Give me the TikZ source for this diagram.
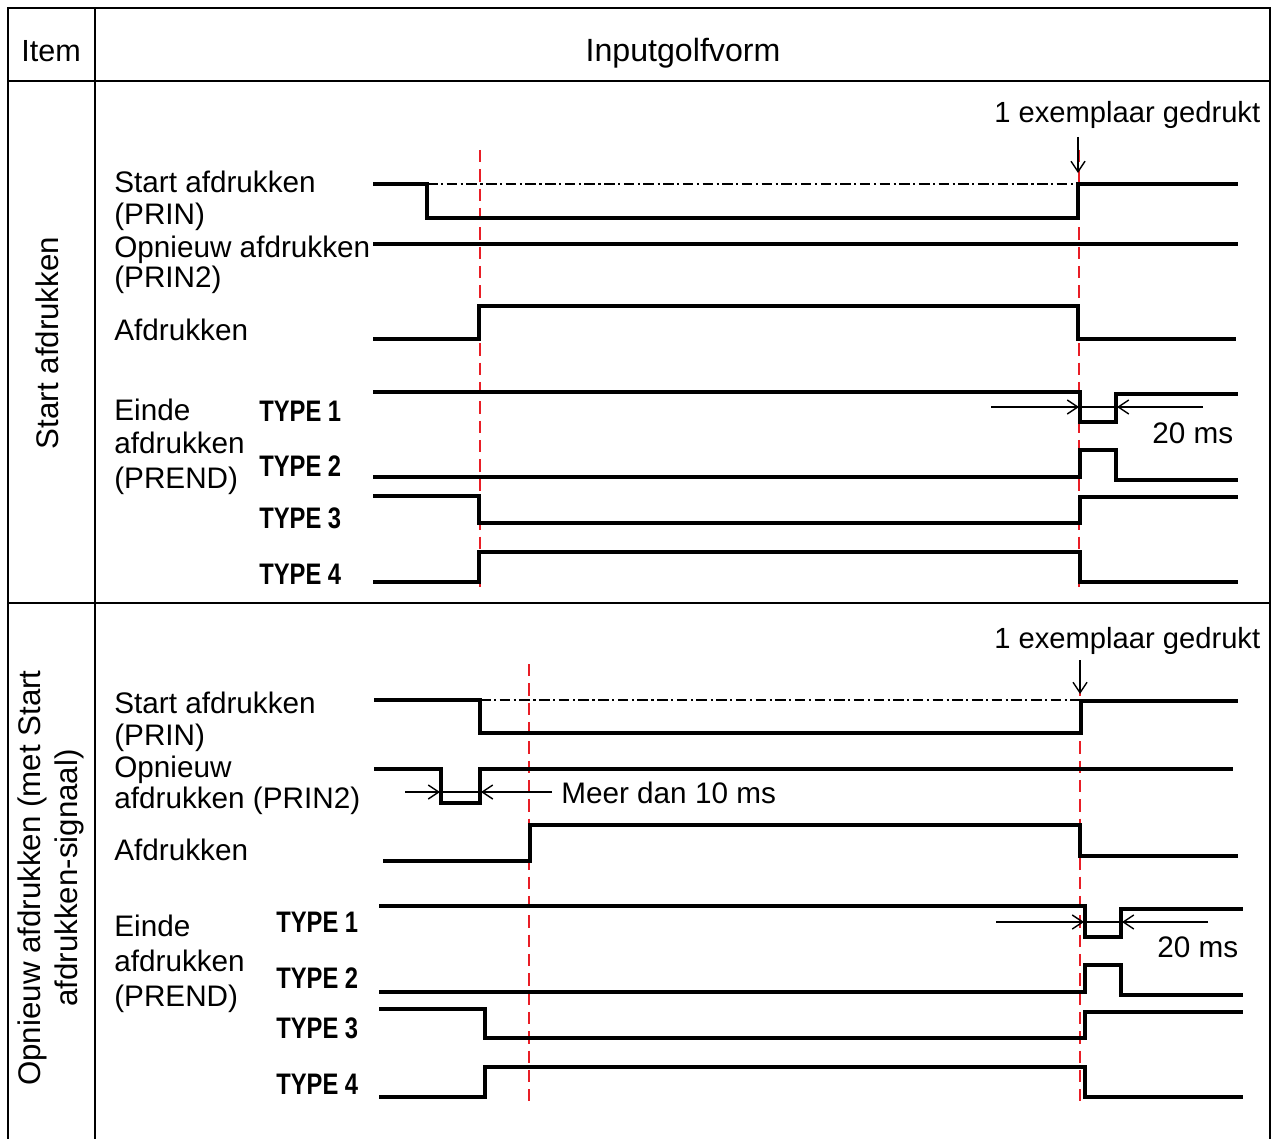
\documentclass[tikz,border=0pt]{standalone}
\usepackage{fontspec}
\usepackage{graphicx}
\setmainfont{Liberation Sans}
\usetikzlibrary{arrows.meta}
\definecolor{redl}{RGB}{232,30,38}
\begin{document}
\begin{tikzpicture}[x=0.02cm,y=-0.02cm,
  every node/.style={inner sep=0pt, font=\fontsize{16.9}{21}\selectfont},
  lbl/.style={anchor=base west},
  typ/.style={anchor=base west},
  big/.style={font=\fontsize{17.8}{21.5}\selectfont},
  gridline/.style={line width=1.5pt},
  sig/.style={line width=2.2pt},
  refline/.style={line width=1.2pt, redl, dash pattern=on 7pt off 4pt},
  dd/.style={line width=0.75pt, dash pattern=on 6pt off 2pt on 1.2pt off 2pt},
  dim/.style={line width=0.8pt, -{Straight Barb[length=6pt,width=8pt]}},
  thinl/.style={line width=0.8pt}]
\useasboundingbox (0,0) rectangle (1273,1138);
% table
\draw[gridline] (8,1140) -- (8,8) -- (1270,8) -- (1270,1140);
\draw[gridline] (95,8) -- (95,1140);
\draw[gridline] (8,81) -- (1270,81);
\draw[gridline] (8,603) -- (1270,603);
\node[anchor=base, font=\fontsize{17.4}{21}\selectfont] (item) at (51,62) {Item};
\node[anchor=base, font=\fontsize{18.3}{21}\selectfont] (wave) at (683,62) {Inputgolfvorm};
\node[rotate=90, big] (sec1) at (47,343) {Start afdrukken};
\node[rotate=90, align=center, big] (sec2) at (51,878) {Opnieuw afdrukken (met Start\\afdrukken-signaal)};

% ---------- section 1 ----------
\draw[refline] (480,150) -- (480,588);
\draw[refline] (1079,150) -- (1079,588);
\node[lbl] (s1a) at (114,193) {Start afdrukken};
\node[lbl] (s1b) at (114,225) {(PRIN)};
\node[lbl] (s1c) at (114,257) {Opnieuw afdrukken};
\node[lbl] (s1d) at (114,288) {(PRIN2)};
\node[lbl] (s1e) at (114,340) {Afdrukken};
\node[lbl] (s1f) at (114,420) {Einde};
\node[lbl] (s1g) at (114,453) {afdrukken};
\node[lbl] (s1h) at (114,488) {(PREND)};
\node[typ] (s1t1) at (259,421) {\scalebox{0.8}[1]{\bfseries TYPE 1}};
\node[typ] (s1t2) at (259,476) {\scalebox{0.8}[1]{\bfseries TYPE 2}};
\node[typ] (s1t3) at (259,528) {\scalebox{0.8}[1]{\bfseries TYPE 3}};
\node[typ] (s1t4) at (259,584) {\scalebox{0.8}[1]{\bfseries TYPE 4}};
\node[lbl, font=\fontsize{16.6}{21}\selectfont] (s1ex) at (994,123) {1 exemplaar gedrukt};
\node[lbl] (s1ms) at (1152,443) {20 ms};
\coordinate (s1ea) at (1078,137);
\coordinate (s1eb) at (1078,173);
\draw[dim] (s1ea) -- (s1eb);
\draw[dd] (427,184) -- (1078,184);
\draw[sig] (373,184) -- (427,184) -- (427,218) -- (1078,218) -- (1078,184) -- (1238,184);
\draw[sig] (373,244) -- (1238,244);
\draw[sig] (373,339) -- (479,339) -- (479,306) -- (1078,306) -- (1078,339) -- (1236,339);
\draw[sig] (373,392) -- (1080,392) -- (1080,422) -- (1116,422) -- (1116,394) -- (1238,394);
\draw[thinl] (1080,407) -- (1116,407);
\draw[dim] (991,407) -- (1079,407);
\draw[dim] (1203,407) -- (1117,407);
\draw[sig] (373,477) -- (1080,477) -- (1080,450) -- (1116,450) -- (1116,480) -- (1238,480);
\draw[sig] (373,496) -- (479,496) -- (479,523) -- (1080,523) -- (1080,497) -- (1238,497);
\draw[sig] (373,582) -- (479,582) -- (479,552) -- (1080,552) -- (1080,582) -- (1238,582);

% ---------- section 2 ----------
\draw[refline] (529,664) -- (529,1104);
\draw[refline] (1080,664) -- (1080,1104);
\node[lbl] (s2a) at (114,713) {Start afdrukken};
\node[lbl] (s2b) at (114,745) {(PRIN)};
\node[lbl] (s2c) at (114,777) {Opnieuw};
\node[lbl] (s2d) at (114,808) {afdrukken (PRIN2)};
\node[lbl] (s2e) at (114,860) {Afdrukken};
\node[lbl] (s2f) at (114,936) {Einde};
\node[lbl] (s2g) at (114,971) {afdrukken};
\node[lbl] (s2h) at (114,1006) {(PREND)};
\node[typ] (s2t1) at (276,932) {\scalebox{0.8}[1]{\bfseries TYPE 1}};
\node[typ] (s2t2) at (276,988) {\scalebox{0.8}[1]{\bfseries TYPE 2}};
\node[typ] (s2t3) at (276,1038) {\scalebox{0.8}[1]{\bfseries TYPE 3}};
\node[typ] (s2t4) at (276,1094) {\scalebox{0.8}[1]{\bfseries TYPE 4}};
\node[lbl, font=\fontsize{16.6}{21}\selectfont] (s2ex) at (994,648) {1 exemplaar gedrukt};
\node[lbl] (s2ms) at (1157,957) {20 ms};
\node[lbl] (s2meer) at (561,803) {Meer dan 10 ms};
\coordinate (s2ea) at (1080,660);
\coordinate (s2eb) at (1080,694);
\draw[dim] (s2ea) -- (s2eb);
\draw[dd] (480,700) -- (1081,700);
\draw[sig] (374,700) -- (480,700) -- (480,733) -- (1081,733) -- (1081,701) -- (1238,701);
\draw[sig] (374,769) -- (441,769) -- (441,803) -- (480,803) -- (480,769) -- (1233,769);
\draw[thinl] (441,792) -- (480,792);
\draw[dim] (405,792) -- (440,792);
\draw[dim] (552,792) -- (481,792);
\draw[sig] (383,861) -- (530,861) -- (530,825) -- (1080,825) -- (1080,856) -- (1238,856);
\draw[sig] (379,906) -- (1085,906) -- (1085,937) -- (1121,937) -- (1121,909) -- (1243,909);
\draw[thinl] (1085,922) -- (1121,922);
\draw[dim] (996,922) -- (1084,922);
\draw[dim] (1208,922) -- (1122,922);
\draw[sig] (379,992) -- (1085,992) -- (1085,965) -- (1121,965) -- (1121,995) -- (1243,995);
\draw[sig] (379,1009) -- (485,1009) -- (485,1038) -- (1085,1038) -- (1085,1012) -- (1243,1012);
\draw[sig] (379,1097) -- (485,1097) -- (485,1067) -- (1085,1067) -- (1085,1097) -- (1243,1097);
\end{tikzpicture}
\end{document}
